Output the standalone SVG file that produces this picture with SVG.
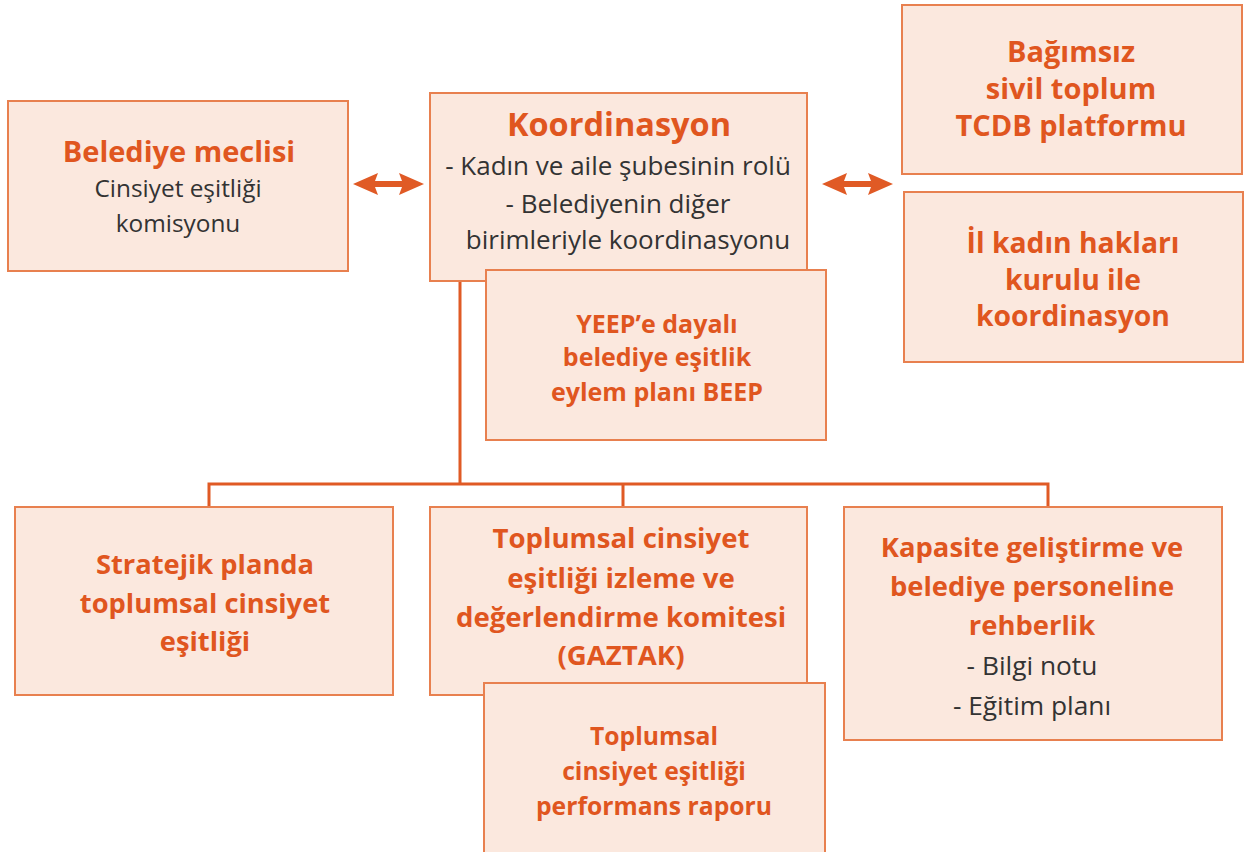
<svg xmlns="http://www.w3.org/2000/svg" width="1247" height="852" viewBox="0 0 1247 852">
<style>
.box{fill:#FBE8DE;stroke:#E8804F;stroke-width:2}
.line{fill:none;stroke:#E05A25;stroke-width:3}
.arr{fill:#E05A25}
.h{font-family:"Open Sans","Liberation Sans",sans-serif;font-weight:bold;fill:#E0561F;text-anchor:middle}
.t{font-family:"Open Sans","Liberation Sans",sans-serif;fill:#333333;text-anchor:middle}
</style>
<rect width="1247" height="852" fill="#FFFFFF"/>
<g id="connectors">
<path class="line" d="M460 281V484M209 507V484H1048V507M623 484V507"/>
<path class="arr" d="M353 184L378 173L375 181H402L399 173L424 184L399 195L402 187H375L378 195Z"/>
<path class="arr" d="M822 184L847 173L844 181H871L868 173L893 184L868 195L871 187H844L847 195Z"/>
</g>
<g id="belediye">
<rect class="box" x="8" y="101" width="340" height="170"/>
<text class="h" x="179" y="162" font-size="29">Belediye meclisi</text>
<text class="t" x="178" y="197" font-size="24.4">Cinsiyet eşitliği</text>
<text class="t" x="178" y="232" font-size="24.4">komisyonu</text>
</g>
<g id="koordinasyon">
<rect class="box" x="430" y="93" width="377" height="188"/>
<text class="h" x="619" y="136" font-size="32.5">Koordinasyon</text>
<text class="t" x="618" y="175" font-size="26">- Kadın ve aile şubesinin rolü</text>
<text class="t" x="618" y="213" font-size="26">- Belediyenin diğer</text>
<text class="t" x="628" y="249" font-size="26">birimleriyle koordinasyonu</text>
</g>
<g id="yeep">
<rect class="box" x="486" y="270" width="340" height="170"/>
<text class="h" x="657" y="333" font-size="25">YEEP’e dayalı</text>
<text class="h" x="657" y="366" font-size="25">belediye eşitlik</text>
<text class="h" x="657" y="401" font-size="25">eylem planı BEEP</text>
</g>
<g id="bagimsiz">
<rect class="box" x="902" y="5" width="340" height="169"/>
<text class="h" x="1071" y="62" font-size="29">Bağımsız</text>
<text class="h" x="1071" y="99" font-size="29">sivil toplum</text>
<text class="h" x="1071" y="136" font-size="29">TCDB platformu</text>
</g>
<g id="ilkadin">
<rect class="box" x="904" y="192" width="339" height="170"/>
<text class="h" x="1073" y="253" font-size="28.3">İl kadın hakları</text>
<text class="h" x="1073" y="290" font-size="28.3">kurulu ile</text>
<text class="h" x="1073" y="326" font-size="28.3">koordinasyon</text>
</g>
<g id="stratejik">
<rect class="box" x="15" y="507" width="378" height="188"/>
<text class="h" x="205" y="574" font-size="27.3">Stratejik planda</text>
<text class="h" x="205" y="613" font-size="27.3">toplumsal cinsiyet</text>
<text class="h" x="205" y="651" font-size="27.3">eşitliği</text>
</g>
<g id="gaztak">
<rect class="box" x="430" y="507" width="377" height="188"/>
<text class="h" x="621" y="548" font-size="27.6">Toplumsal cinsiyet</text>
<text class="h" x="621" y="588" font-size="27.6">eşitliği izleme ve</text>
<text class="h" x="621" y="627" font-size="27.6">değerlendirme komitesi</text>
<text class="h" x="621" y="665" font-size="27.6">(GAZTAK)</text>
</g>
<g id="kapasite">
<rect class="box" x="844" y="507" width="378" height="233"/>
<text class="h" x="1032" y="557" font-size="27.4">Kapasite geliştirme ve</text>
<text class="h" x="1032" y="596" font-size="27.4">belediye personeline</text>
<text class="h" x="1032" y="635" font-size="27.4">rehberlik</text>
<text class="t" x="1032" y="675" font-size="26.3">- Bilgi notu</text>
<text class="t" x="1032" y="715" font-size="26.3">- Eğitim planı</text>
</g>
<g id="performans">
<rect class="box" x="484" y="683" width="341" height="175"/>
<text class="h" x="654" y="745" font-size="24.7">Toplumsal</text>
<text class="h" x="654" y="780" font-size="24.7">cinsiyet eşitliği</text>
<text class="h" x="654" y="815" font-size="24.7">performans raporu</text>
</g>
</svg>
